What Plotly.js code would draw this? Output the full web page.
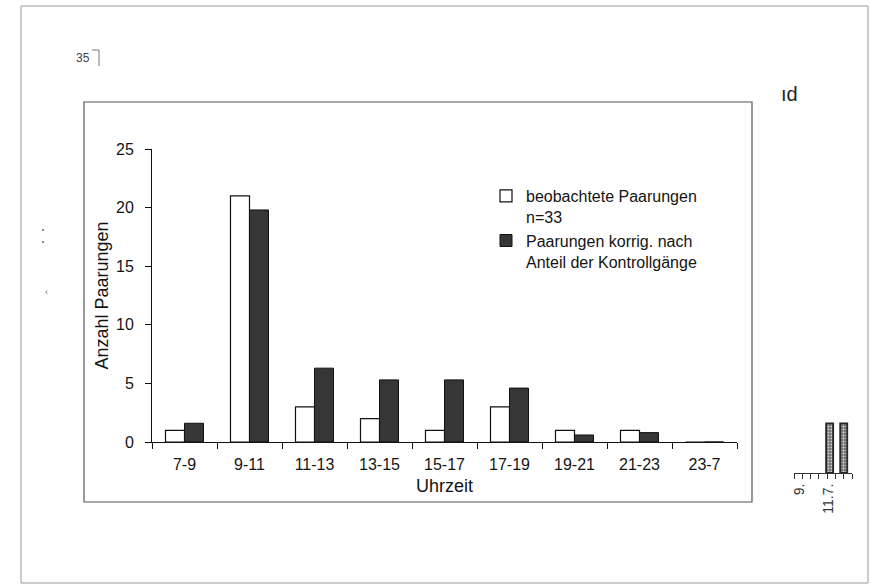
<!DOCTYPE html>
<html><head><meta charset="utf-8">
<script src="https://cdn.plot.ly/plotly-3.0.1.min.js"></script>
<style>html,body{margin:0;padding:0;background:#fff}#chart{width:871px;height:586px}</style>
</head><body><div id="chart"></div>
<script>
// ---- data ----
const categories = ['7-9','9-11','11-13','13-15','15-17','17-19','19-21','21-23','23-7'];
const observed   = [1, 21, 3, 2, 1, 3, 1, 1, 0];
const corrected  = [1.6, 19.8, 6.3, 5.3, 5.3, 4.6, 0.6, 0.8, 0];
const yTicks     = [0, 5, 10, 15, 20, 25];
const seriesNames = ['beobachtete Paarungen<br>n=33', 'Paarungen korrig. nach<br>Anteil der Kontrollgänge'];
// fragment of a second chart visible at the lower right of the scan
const fragX = [4.3, 6.0];
const fragY = [4.1, 4.1];
const fragTickPos  = [0.6, 4.2];
const fragTickText = ['9.', '11.7.'];

// ---- helpers (pixel -> paper) ----
const W = 871, H = 586;
const px = x => x / W, py = y => 1 - y / H;
const FONT = 'Liberation Sans, Arial, Helvetica, sans-serif';
const INK = '#141414';

const traces = [
  {type:'bar', x: categories, y: observed, name: seriesNames[0],
   marker:{color:'#ffffff', line:{color:'#111', width:1.2}}, xaxis:'x', yaxis:'y'},
  {type:'bar', x: categories, y: corrected, name: seriesNames[1],
   marker:{color:'#363636', line:{color:'#111', width:1}}, xaxis:'x', yaxis:'y'},
  {type:'bar', x: fragX, y: fragY, width: 0.85, showlegend:false,
   marker:{color:'#6e6e6e', line:{color:'#262626', width:1.8},
           pattern:{shape:'.', fgcolor:'#d8d8d8', bgcolor:'#6e6e6e', size:3, solidity:0.35}},
   xaxis:'x2', yaxis:'y2'}
];

const dot = (x, y, r) => ({type:'circle', xref:'paper', yref:'paper',
  x0:px(x-r), x1:px(x+r), y0:py(y+r), y1:py(y-r), fillcolor:'#666', line:{width:0}});

const layout = {
  width: W, height: H,
  margin: {l:0, r:0, t:0, b:0},
  paper_bgcolor:'#fff', plot_bgcolor:'rgba(0,0,0,0)',
  font: {family: FONT, color: INK, size: 16},
  barmode: 'group', bargap: 0.415, bargroupgap: 0,
  showlegend: true,
  legend: {x: px(486), y: py(179), xanchor:'left', yanchor:'top',
           bgcolor:'rgba(0,0,0,0)', font:{size:16, color:INK}, valign:'top',
           traceorder:'normal'},
  xaxis: {domain:[px(152), px(737)], type:'category', range:[-0.5, 8.5],
          showline:true, linecolor:'#111', linewidth:1,
          ticks:'outside', tickson:'boundaries', ticklen:6, tickcolor:'#111',
          ticklabelstandoff: 8, tickfont:{size:16},
          showgrid:false, zeroline:false, anchor:'y',
          title:{text:'Uhrzeit', font:{size:18}, standoff:7}},
  yaxis: {domain:[py(442), py(149)], range:[0, 25], tickvals: yTicks,
          showline:true, linecolor:'#111', linewidth:1,
          ticks:'outside', ticklen:6, tickcolor:'#111',
          ticklabelstandoff: 8, tickfont:{size:16},
          showgrid:false, zeroline:false, anchor:'x',
          title:{text:'Anzahl Paarungen', font:{size:18}, standoff:2}},
  xaxis2: {domain:[px(794), px(852)], range:[0, 7], anchor:'y2',
           showline:true, linecolor:'#333', linewidth:1,
           tickmode:'array', tickvals: fragTickPos, ticktext: fragTickText,
           ticks:'', tickangle:-90, tickfont:{size:14, color:'#333'}, ticklabelstandoff:4,
           minor:{ticks:'outside', dtick:1, tick0:0, ticklen:5, tickcolor:'#333'},
           showgrid:false, zeroline:false},
  yaxis2: {domain:[py(473), py(50)], range:[0, 35], anchor:'x2', visible:false},
  shapes: [
    // scanned page border
    {type:'rect', xref:'paper', yref:'paper', x0:px(21), x1:px(868), y0:py(583), y1:py(6),
     line:{color:'#9a9a9a', width:1}, layer:'below'},
    // chart frame
    {type:'rect', xref:'paper', yref:'paper', x0:px(84), x1:px(752), y0:py(502), y1:py(102),
     line:{color:'#555', width:1.2}, layer:'below'},
    // background-axis bracket near "35"
    {type:'line', xref:'paper', yref:'paper', x0:px(92), x1:px(99), y0:py(50), y1:py(50),
     line:{color:'#777', width:1}},
    {type:'line', xref:'paper', yref:'paper', x0:px(99), x1:px(99), y0:py(50), y1:py(66),
     line:{color:'#777', width:1}},
    // stray scan specks at the left edge
    dot(43, 230, 1), dot(43, 242, 1)
  ],
  annotations: [
    {text:'35', xref:'paper', yref:'paper', x:px(74), y:py(49), showarrow:false,
     font:{size:12, color:'#444'}},
    {text:'ıd', xref:'paper', yref:'paper', x:px(800), y:py(81), showarrow:false,
     font:{size:20, color:'#222'}},
    {text:'‹', xref:'paper', yref:'paper', x:px(43), y:py(292), showarrow:false,
     font:{size:9, color:'#666'}}
  ]
};

Plotly.newPlot('chart', traces, layout, {staticPlot:true, displayModeBar:false});
</script>
</body></html>
